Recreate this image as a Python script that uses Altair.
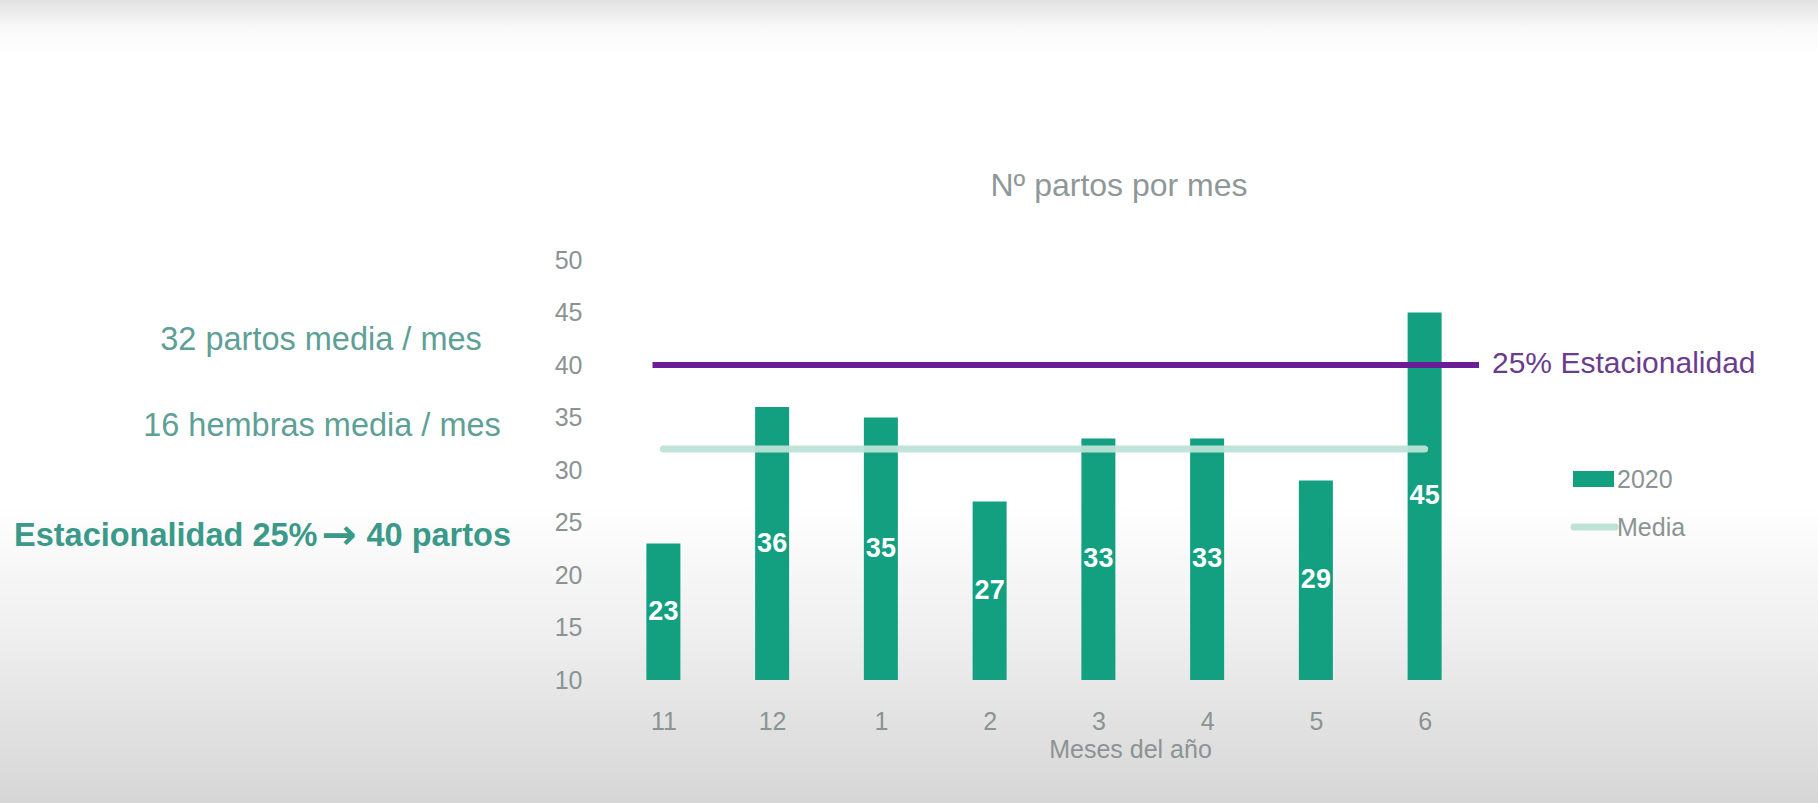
import altair as alt
import pandas as pd

# ---------------- data ----------------
months = ["11", "12", "1", "2", "3", "4", "5", "6"]
partos_2020 = [23, 36, 35, 27, 33, 33, 29, 45]
media = [32, 32, 32, 32, 32, 32, 32, 32]
y_ticks = [10, 15, 20, 25, 30, 35, 40, 45, 50]
y_min, y_max = 10, 50
estacionalidad = 40
title_text = "Nº partos por mes"
x_title = "Meses del año"
line_label = "25% Estacionalidad"
notes = ["32 partos media / mes", "16 hembras media / mes"]
note3_parts = ["Estacionalidad 25%", "→", "40 partos"]
legend_labels = ["2020", "Media"]

df = pd.DataFrame({"idx": list(range(len(months))), "mes": months,
                   "partos": partos_2020, "media": media})

# ---------------- styles ----------------
FONT = "Liberation Sans"
GRAY = "#8a9494"
GREEN = "#12a080"
MINT = "#bde3d7"
PURPLE = "#6a1d96"
PURPLE_TXT = "#6b3c8e"
TEAL = "#5e9f96"
TEAL_BOLD = "#3b998a"

W, H = 880, 420
PAD = {"left": 604, "top": 260, "right": 334, "bottom": 123}
L = PAD["left"]

x_scale = alt.Scale(domain=[-0.5, len(months) - 0.5], nice=False, zero=False)
y_scale = alt.Scale(domain=[y_min, y_max], nice=False, zero=False)
label_expr = "[" + ",".join(f"'{m}'" for m in months) + "][datum.value]"

x_axis = alt.Axis(values=list(range(len(months))), labelExpr=label_expr, ticks=False,
                  domain=False, grid=False, labelPadding=29, labelFontSize=25,
                  labelColor=GRAY, labelFont=FONT, labelFlush=False, labelOverlap=False,
                  title=x_title, titleX=1130 - L, titleY=69, titleFontSize=25,
                  titleFontWeight="normal", titleColor=GRAY, titleFont=FONT,
                  titleBaseline="middle", titleAlign="center", zindex=1)
y_axis = alt.Axis(values=y_ticks, ticks=False, domain=False, grid=False,
                  labelPadding=L - 582, labelFontSize=25, labelColor=GRAY,
                  labelFont=FONT, labelFlush=False, title=None, zindex=1)

base = alt.Chart(df)

# background (slide gradient)
bg = alt.Chart(pd.DataFrame({"k": [0]})).mark_rect(
    fill=alt.Gradient(gradient="linear", x1=0, x2=0, y1=0, y2=1,
                      stops=[alt.GradientStop(color="#e2e2e2", offset=0),
                             alt.GradientStop(color="#f9f9f9", offset=0.035),
                             alt.GradientStop(color="#ffffff", offset=0.07),
                             alt.GradientStop(color="#ffffff", offset=0.63),
                             alt.GradientStop(color="#efefef", offset=0.79),
                             alt.GradientStop(color="#d6d6d6", offset=1)])
).encode(x=alt.value(-PAD["left"]), x2=alt.value(W + PAD["right"]),
         y=alt.value(-PAD["top"]), y2=alt.value(H + PAD["bottom"]))

bars = base.mark_bar(color=GREEN, size=34).encode(
    x=alt.X("idx:Q", scale=x_scale, axis=x_axis),
    y=alt.Y("partos:Q", scale=y_scale, axis=y_axis),
    y2=alt.datum(y_min),
)

mean_line = base.mark_line(color=MINT, strokeWidth=7, strokeCap="round", opacity=0.95).encode(
    x="idx:Q", y="media:Q")

bar_labels = base.transform_calculate(mid=f"(datum.partos + {y_min}) / 2").mark_text(
    color="white", font=FONT, fontWeight="bold",
    fontSize=27, baseline="middle", align="center").encode(
    x="idx:Q", y="mid:Q", text="partos:Q")

purple_df = pd.DataFrame({"y": [estacionalidad], "x1": [-0.1], "x2": [len(months) - 0.5],
                          "t": [line_label]})
purple = alt.Chart(purple_df).mark_rule(color=PURPLE, strokeWidth=6).encode(
    x="x1:Q", x2="x2:Q", y="y:Q")
purple_text = alt.Chart(purple_df).mark_text(
    align="left", baseline="middle", dx=13, dy=-1, font=FONT, fontSize=30,
    color=PURPLE_TXT).encode(x="x2:Q", y="y:Q", text="t:N")


def note(text, x, y, size, color, weight="normal", align="center", font=FONT):
    return alt.Chart(pd.DataFrame({"t": [text]})).mark_text(
        font=font, fontSize=size, color=color, fontWeight=weight, align=align,
        baseline="middle").encode(x=alt.value(x - L), y=alt.value(y - PAD["top"]),
                                  text="t:N")


title = note(title_text, 1119, 186, 32, "#8e9898")
n1 = note(notes[0], 321, 340, 32.5, TEAL)
n2 = note(notes[1], 322, 426, 32.5, TEAL)
n3a = note(note3_parts[0], 14, 536, 32.5, TEAL_BOLD, weight="bold", align="left")
n3b = note(note3_parts[1], 339, 536, 42, TEAL_BOLD, weight="bold", font="DejaVu Sans")
n3c = note(note3_parts[2], 511, 536, 32.5, TEAL_BOLD, weight="bold", align="right")

leg_rect = alt.Chart(pd.DataFrame({"k": [0]})).mark_rect(color=GREEN).encode(
    x=alt.value(1573 - L), x2=alt.value(1614 - L), y=alt.value(211), y2=alt.value(227))
leg_line = alt.Chart(pd.DataFrame({"k": [0]})).mark_rule(
    color=MINT, strokeWidth=7, strokeCap="round").encode(
    x=alt.value(1574 - L), x2=alt.value(1615 - L), y=alt.value(267))
leg_t1 = note(legend_labels[0], 1617, 480, 25, GRAY, align="left")
leg_t2 = note(legend_labels[1], 1617, 528, 25, GRAY, align="left")

chart = alt.layer(
    bg, bars, mean_line, purple, bar_labels, purple_text, title, n1, n2, n3a, n3b, n3c,
    leg_rect, leg_line, leg_t1, leg_t2
).properties(
    width=W, height=H, autosize="none", padding=PAD, background="white"
).configure_view(stroke=None)

chart.save("out.html", embed_options={"renderer": "svg", "actions": False})
